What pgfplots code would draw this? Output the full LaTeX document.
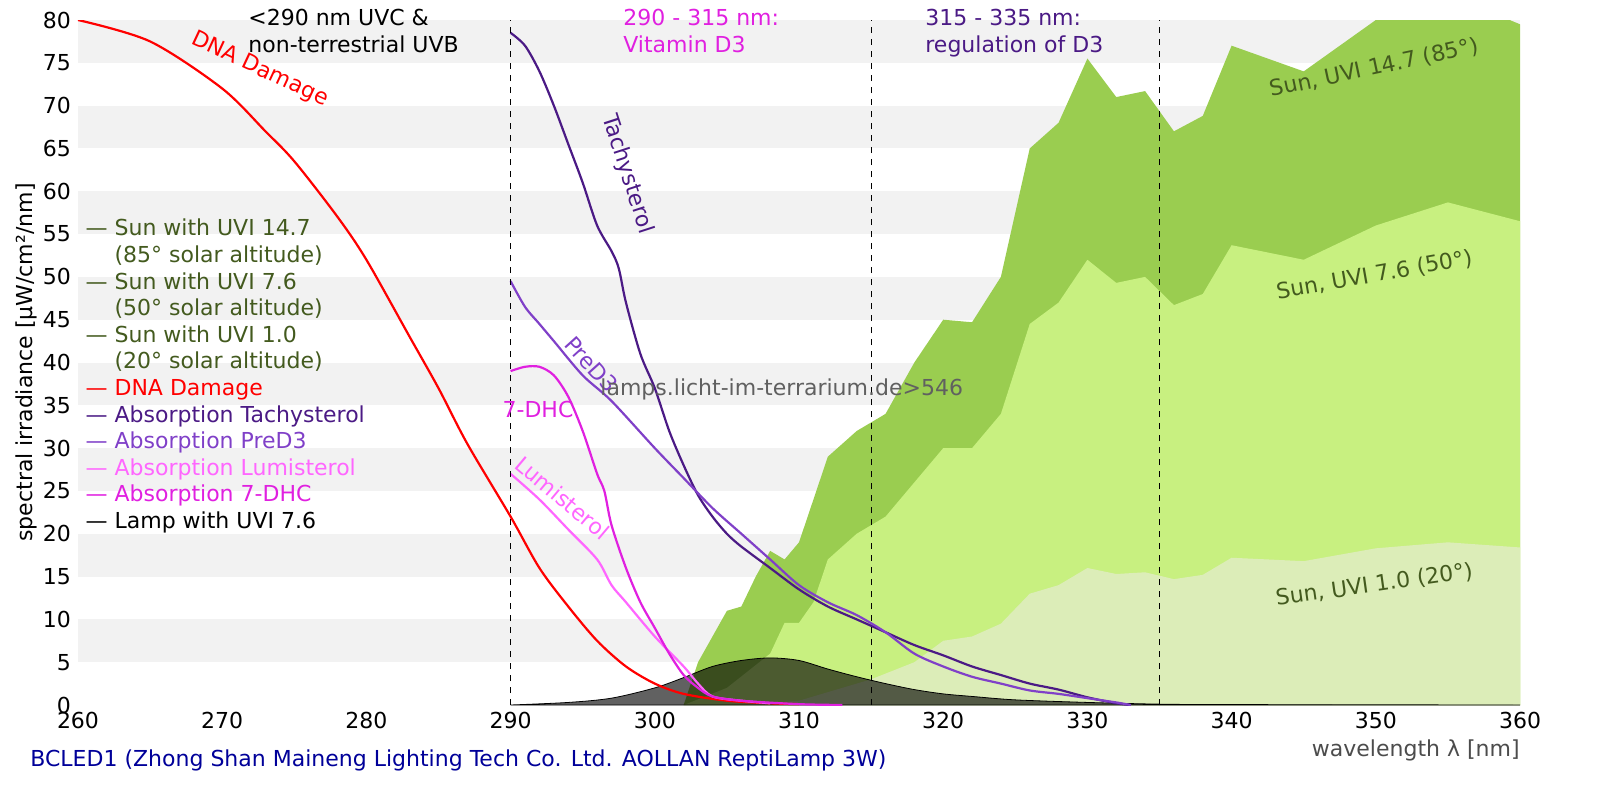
\documentclass[border=0pt]{standalone}
\usepackage{pgfplots}
\pgfplotsset{compat=1.18}
\usepackage{fontspec}
\setmainfont{DejaVu Sans}
\definecolor{sunA}{HTML}{9ACD50}
\definecolor{sunB}{HTML}{C8F080}
\definecolor{sunC}{HTML}{DCEDB8}
\definecolor{olv}{HTML}{435A1E}
\definecolor{tach}{HTML}{4B1A85}
\definecolor{pred}{HTML}{8040C8}
\definecolor{lumi}{HTML}{FF66FF}
\definecolor{dhc}{HTML}{E020E0}
\begin{document}
\begin{tikzpicture}[font=\fontsize{11}{13.3}\selectfont]
\begin{axis}[at={(0,0)},anchor=origin,scale only axis,width=721pt,height=342.5pt,
 xmin=260,xmax=360,ymin=0,ymax=80,
 xtick={260,270,...,360},ytick={0,5,...,80},
 /pgf/number format/assume math mode=true,
 tick style={draw=none},axis line style={draw=none},
 ylabel={spectral irradiance [µW/cm²/nm]},ylabel style={yshift=-4pt},
 clip=true]
\foreach \b in {5,15,...,75}{\edef\tmp{\noexpand\fill[gray!10] (axis cs:260,\b) rectangle (axis cs:360,\b+5);}\tmp}
\addplot[fill=sunA,draw=none] coordinates {(302,0)(303,5)(304,8)(305,11)(306,11.5)(307,15)(308,18)(309,17)(310,19)(311,24)(312,29)(313,30.5)(314,32)(315,33)(316,34)(318,40)(320,45)(322,44.7)(324,50)(326,65)(328,68)(330,75.5)(332,71)(334,71.7)(336,67)(338,68.8)(340,77)(345,74)(350,80)(355,83)(360,79.5)(360,0)} \closedcycle;
\addplot[fill=sunB,draw=none] coordinates {(302,0)(305,2)(308,6)(309,9.6)(310,9.6)(311,12)(312,17)(314,20)(316,22)(318,26)(320,30)(322,30)(324,34)(326,44.5)(328,47)(330,52)(332,49.3)(334,50)(336,46.7)(338,48)(340,53.7)(345,52)(350,56)(355,58.7)(360,56.5)(360,0)} \closedcycle;
\addplot[fill=sunC,draw=none] coordinates {(306,0)(310,0.5)(312,1.5)(315,3)(318,5)(320,7.5)(322,8)(324,9.5)(326,13)(328,14)(330,16)(332,15.3)(334,15.5)(336,14.7)(338,15.2)(340,17.2)(345,16.8)(350,18.3)(355,19)(360,18.4)(360,0)} \closedcycle;
\addplot[fill=black,fill opacity=0.62,draw=black,smooth] coordinates {(290,0)(294,0.3)(297,0.8)(300,2)(302,3.2)(304,4.5)(306,5.2)(308,5.5)(310,5.2)(312,4.2)(314,3.3)(316,2.5)(318,1.8)(320,1.3)(322,1)(325,0.6)(330,0.3)(335,0.1)(340,0.05)(360,0)} \closedcycle;
\addplot[red,line width=1.1pt,smooth] coordinates {(260,80)(265,77.5)(270,72)(273,67)(275,63.5)(278,57)(280,52)(283,43)(285,37)(287,30.5)(290,22)(292,16)(294,11.5)(296,7.5)(298,4.5)(300,2.5)(302,1.3)(305,0.5)(308,0.2)(310,0.1)};
\addplot[tach,line width=1.1pt,smooth] coordinates {(290,78.5)(291,77)(292,74)(293,70)(294,65.5)(295,61)(296,56)(297,53)(297.5,51)(298,47)(299,41)(300,37)(301,32)(302,28)(303,24.5)(304,22)(305,20)(306,18.5)(308,16)(310,13.5)(312,11.5)(314,10)(316,8.5)(318,7)(320,5.8)(322,4.5)(324,3.5)(326,2.5)(328,1.8)(330,0.9)(332,0.2)(333,0)};
\addplot[pred,line width=1.1pt,smooth] coordinates {(290,49.5)(291,46.5)(292,44.5)(293,42.5)(295,38.5)(297,35.5)(300,30)(302,26.5)(304,23)(306,20)(308,17)(310,14)(312,12)(314,10.5)(316,8.5)(318,6)(320,4.5)(322,3.3)(324,2.5)(326,1.7)(328,1.3)(330,0.8)(332,0.3)(333,0)};
\addplot[lumi,line width=1.1pt,smooth] coordinates {(290,27)(292,24)(294,20.5)(296,17)(297,14)(298,12)(300,8)(302,4.5)(303,2.5)(304,1)(306,0.5)(308,0.2)};
\addplot[dhc,line width=1.1pt,smooth] coordinates {(290,39)(291,39.5)(292,39.5)(293,38.5)(294,36)(295,32)(296,27)(296.5,25)(297,21)(298,16)(299,12)(300,9)(301,6)(302,3.5)(303,2)(304,1)(306,0.5)(310,0.1)(313,0)};
\foreach \v in {290,315,335}{\edef\tmp{\noexpand\draw[dashed,thin] (axis cs:\v,0) -- (axis cs:\v,80);}\tmp}
\node[red,rotate=-25] at (axis cs:272.6,74.2) {DNA Damage};
\node[tach,rotate=-72] at (axis cs:298.1,62) {Tachysterol};
\node[pred,rotate=-48] at (axis cs:295.6,39.8) {PreD3};
\node[dhc] at (axis cs:291.9,34.5) {7-DHC};
\node[lumi,rotate=-40] at (axis cs:293.6,24.2) {Lumisterol};
\node[gray!75!black] at (axis cs:308.8,36.8) {lamps.licht-im-terrarium.de>546};
\node[olv,rotate=12] at (axis cs:349.9,74.4) {Sun, UVI 14.7 (85°)};
\node[olv,rotate=10] at (axis cs:349.9,50.2) {Sun, UVI 7.6 (50°)};
\node[olv,rotate=8] at (axis cs:349.9,14) {Sun, UVI 1.0 (20°)};
\node[anchor=west,align=left,inner sep=0] at (axis cs:260.5,38.4) {\textcolor{olv}{— Sun with UVI 14.7}\\\textcolor{olv}{\quad\ (85° solar altitude)}\\\textcolor{olv}{— Sun with UVI 7.6}\\\textcolor{olv}{\quad\ (50° solar altitude)}\\\textcolor{olv}{— Sun with UVI 1.0}\\\textcolor{olv}{\quad\ (20° solar altitude)}\\\textcolor{red}{— DNA Damage}\\\textcolor{tach}{— Absorption Tachysterol}\\\textcolor{pred}{— Absorption PreD3}\\\textcolor{lumi}{— Absorption Lumisterol}\\\textcolor{dhc}{— Absorption 7-DHC}\\— Lamp with UVI 7.6};
\end{axis}
\node[anchor=north west,align=left,inner sep=0] at (85pt,348pt) {<290 nm UVC \&\\non-terrestrial UVB};
\node[anchor=north west,align=left,inner sep=0,text=dhc] at (272.5pt,348pt) {290 - 315 nm:\\Vitamin D3};
\node[anchor=north west,align=left,inner sep=0,text=tach] at (423.5pt,348pt) {315 - 335 nm:\\regulation of D3};
\node[anchor=north east,text=black!70,inner sep=0] at (721pt,-17pt) {wavelength λ [nm]};
\node[anchor=north west,text=blue!60!black,inner sep=0] at (-24pt,-22pt) {BCLED1 (Zhong Shan Maineng Lighting Tech Co. Ltd. AOLLAN ReptiLamp 3W)};
\pgfresetboundingbox
\path[use as bounding box] (-39pt,-47.5pt) rectangle (761pt,352.5pt);
\end{tikzpicture}
\end{document}
